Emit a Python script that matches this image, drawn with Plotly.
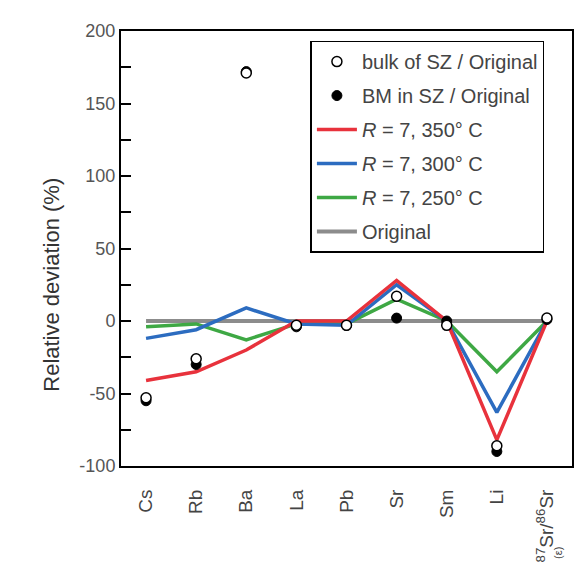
import plotly.graph_objects as go

categories = ["Cs", "Rb", "Ba", "La", "Pb", "Sr", "Sm", "Li",
              "<sup>87</sup>Sr/<sup>86</sup>Sr"]

r350 = [-41, -35, -20, 0, 0, 28, 0, -82, 0]
r300 = [-12, -6, 9, -2, -3, 25, 0, -63, 0]
r250 = [-4, -2, -13, -2, -2, 15, 0, -35, 0]
original = [0, 0, 0, 0, 0, 0, 0, 0, 0]
bulk_sz = [-53, -26, 171, -3, -3, 17, -3, -86, 2]
bm_sz = [-55, -30, 172, -4, -3, 2, 0, -90, 1]

y_ticks = [-100, -50, 0, 50, 100, 150, 200]
y_ticktext = ["-100", "-50", "0", "50", "100", "150", "200"]

fig = go.Figure()

fig.add_trace(go.Scatter(x=categories, y=original, mode="lines", name="Original",
                         line=dict(color="#8c8c8c", width=4), legendrank=6, legendgroup="g6"))
fig.add_trace(go.Scatter(x=categories, y=r250, mode="lines", name="<i>R</i> = 7, 250° C",
                         line=dict(color="#3ea844", width=3.5), legendrank=5, legendgroup="g5"))
fig.add_trace(go.Scatter(x=categories, y=r300, mode="lines", name="<i>R</i> = 7, 300° C",
                         line=dict(color="#2c6cc0", width=3.5), legendrank=4, legendgroup="g4"))
fig.add_trace(go.Scatter(x=categories, y=r350, mode="lines", name="<i>R</i> = 7, 350° C",
                         line=dict(color="#e8323c", width=3.5), legendrank=3, legendgroup="g3"))
fig.add_trace(go.Scatter(x=categories, y=bm_sz, mode="markers", name="BM in SZ / Original",
                         marker=dict(color="black", size=10, line=dict(color="black", width=1)),
                         legendrank=2, legendgroup="g2"))
fig.add_trace(go.Scatter(x=categories, y=bulk_sz, mode="markers", name="bulk of SZ / Original",
                         marker=dict(color="white", size=10, line=dict(color="black", width=1.5)),
                         legendrank=1, legendgroup="g1"))

fig.add_annotation(text="(ε)", x=categories[-1], xref="x", xshift=11,
                   y=-0.2, yref="paper", yanchor="middle", textangle=-90,
                   showarrow=False, font=dict(size=11, color="#444"))

fig.add_annotation(text="Relative deviation (%)", x=-0.153, xref="paper",
                   y=25, yref="y",
                   showarrow=False, textangle=-90, xanchor="center", yanchor="middle",
                   font=dict(size=22, color="#333"))

fig.update_layout(
    width=582, height=568,
    margin=dict(l=121, r=10, t=31, b=102, autoexpand=False),
    paper_bgcolor="white", plot_bgcolor="white",
    font=dict(family="Liberation Sans, Arial, sans-serif", color="#444"),
    legend=dict(
        x=0.42, y=0.978, xanchor="left", yanchor="top",
        bgcolor="white", bordercolor="black", borderwidth=1.5,
        font=dict(size=20, color="#444"),
        tracegroupgap=5, itemwidth=40,
    ),
    xaxis=dict(
        type="category", categoryorder="array", categoryarray=categories,
        range=[-0.5, 8.5], showline=True, mirror=True, linecolor="black", linewidth=2,
        ticks="", tickangle=-90, tickfont=dict(size=19, color="#444"),
        showgrid=False, zeroline=False, ticklabelstandoff=14, automargin=False,
    ),
    yaxis=dict(
        range=[-100, 200], tickvals=y_ticks, ticktext=y_ticktext,
        ticks="inside", ticklen=10, tickwidth=2, tickcolor="black",
        minor=dict(dtick=25, tick0=0, ticks="inside", ticklen=10, tickwidth=2, tickcolor="black"),
        showline=True, mirror=True, linecolor="black", linewidth=2,
        showgrid=False, zeroline=False, automargin=False,
        tickfont=dict(size=18, color="#555"),
    ),
)

fig.write_html("out.html")
